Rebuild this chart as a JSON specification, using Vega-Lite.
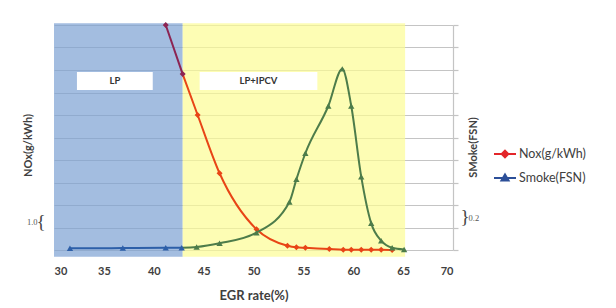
{
  "$schema": "https://vega.github.io/schema/vega-lite/v6.json",
  "width": 399,
  "height": 225,
  "autosize": {"type": "none"},
  "padding": {"left": 54, "top": 25, "right": 163, "bottom": 58},
  "background": "white",
  "config": {"view": {"stroke": null}, "font": "Lato"},
  "datasets": {
    "regions": [
      {"region": "LP", "x1": 30, "x2": 42.9, "y1": -0.3, "y2": 10.08},
      {"region": "IPCV", "x1": 42.9, "x2": 65.2, "y1": -0.3, "y2": 10.08}
    ],
    "boxes": [
      {"label": "LP", "x1": 32.3, "x2": 39.9, "y1": 7.11, "y2": 7.91, "cx": 36.1, "cy": 7.51},
      {"label": "LP+IPCV", "x1": 44.6, "x2": 56.4, "y1": 7.11, "y2": 7.91, "cx": 50.5, "cy": 7.51}
    ],
    "braces": [
      {"t": "{", "egr": 28.7, "nox": 1.26},
      {"t": "}", "egr": 71.2, "nox": 1.47}
    ],
    "nox": [
      {"egr": 41.2, "nox": 10.0, "seg": "Nox LP", "dup": false},
      {"egr": 42.9, "nox": 7.82, "seg": "Nox LP", "dup": false},
      {"egr": 42.9, "nox": 7.82, "seg": "Nox IPCV", "dup": true},
      {"egr": 44.4, "nox": 6.0, "seg": "Nox IPCV", "dup": false},
      {"egr": 46.6, "nox": 3.41, "seg": "Nox IPCV", "dup": false},
      {"egr": 50.3, "nox": 0.92, "seg": "Nox IPCV", "dup": false},
      {"egr": 53.4, "nox": 0.19, "seg": "Nox IPCV", "dup": false},
      {"egr": 54.3, "nox": 0.12, "seg": "Nox IPCV", "dup": false},
      {"egr": 55.2, "nox": 0.1, "seg": "Nox IPCV", "dup": false},
      {"egr": 57.6, "nox": 0.04, "seg": "Nox IPCV", "dup": false},
      {"egr": 59.0, "nox": 0.01, "seg": "Nox IPCV", "dup": false},
      {"egr": 59.8, "nox": 0.01, "seg": "Nox IPCV", "dup": false},
      {"egr": 60.8, "nox": 0.01, "seg": "Nox IPCV", "dup": false},
      {"egr": 61.8, "nox": 0.01, "seg": "Nox IPCV", "dup": false},
      {"egr": 62.8, "nox": 0.01, "seg": "Nox IPCV", "dup": false},
      {"egr": 63.9, "nox": 0.0, "seg": "Nox IPCV", "dup": false}
    ],
    "smoke": [
      {"egr": 31.6, "smoke": 0.015, "seg": "Smoke LP", "dup": false},
      {"egr": 36.9, "smoke": 0.017, "seg": "Smoke LP", "dup": false},
      {"egr": 41.2, "smoke": 0.02, "seg": "Smoke LP", "dup": false},
      {"egr": 42.8, "smoke": 0.02, "seg": "Smoke LP", "dup": false},
      {"egr": 42.8, "smoke": 0.02, "seg": "Smoke IPCV", "dup": true},
      {"egr": 44.3, "smoke": 0.027, "seg": "Smoke IPCV", "dup": false},
      {"egr": 46.6, "smoke": 0.06, "seg": "Smoke IPCV", "dup": false},
      {"egr": 50.3, "smoke": 0.154, "seg": "Smoke IPCV", "dup": false},
      {"egr": 53.6, "smoke": 0.427, "seg": "Smoke IPCV", "dup": false},
      {"egr": 54.3, "smoke": 0.628, "seg": "Smoke IPCV", "dup": false},
      {"egr": 55.2, "smoke": 0.86, "seg": "Smoke IPCV", "dup": false},
      {"egr": 57.5, "smoke": 1.28, "seg": "Smoke IPCV", "dup": false},
      {"egr": 58.9, "smoke": 1.61, "seg": "Smoke IPCV", "dup": false},
      {"egr": 59.8, "smoke": 1.28, "seg": "Smoke IPCV", "dup": false},
      {"egr": 60.8, "smoke": 0.652, "seg": "Smoke IPCV", "dup": false},
      {"egr": 61.8, "smoke": 0.237, "seg": "Smoke IPCV", "dup": false},
      {"egr": 62.8, "smoke": 0.083, "seg": "Smoke IPCV", "dup": false},
      {"egr": 63.9, "smoke": 0.02, "seg": "Smoke IPCV", "dup": false},
      {"egr": 65.1, "smoke": 0.005, "seg": "Smoke IPCV", "dup": false}
    ],
    "legend": [
      {"series": "Nox(g/kWh)"},
      {"series": "Smoke(FSN)"}
    ]
  },
  "layer": [
    {
      "layer": [
        {
          "data": {"name": "regions"},
          "mark": {"type": "rect", "opacity": 0.7},
          "encoding": {
            "x": {
              "field": "x1", "type": "quantitative",
              "scale": {"domain": [30, 70], "nice": false, "zero": false},
              "axis": {
                "values": [30, 35, 40, 45, 50, 55, 60, 65, 70],
                "title": "EGR rate(%)",
                "grid": false, "ticks": false, "domain": false,
                "labelFont": "Lato", "labelFontWeight": "bold", "labelFontSize": 11,
                "labelColor": "#404040", "labelPadding": 15,
                "titleFont": "Lato", "titleFontSize": 13, "titleFontWeight": "bold",
                "titleColor": "#404040", "titlePadding": 13
              }
            },
            "x2": {"field": "x2"},
            "y": {
              "field": "y1", "type": "quantitative",
              "scale": {"domain": [0, 10], "nice": false, "zero": false},
              "axis": {
                "orient": "left",
                "values": [1],
                "labelExpr": "'1.0'",
                "title": "NOx(g/kWh)",
                "grid": false, "ticks": false, "domain": false,
                "labelFont": "Liberation Serif", "labelFontSize": 8.5, "labelColor": "#555555",
                "labelPadding": 17, "labelOffset": -6,
                "titleFont": "Lato", "titleFontSize": 11, "titleFontWeight": "bold",
                "titleColor": "#404040", "titleX": -26, "titleY": 120,
                "titleAngle": 270, "titleBaseline": "middle", "titleAlign": "center"
              }
            },
            "y2": {"field": "y2"},
            "color": {
              "field": "region", "type": "nominal",
              "scale": {
                "domain": ["LP", "IPCV", "Nox LP", "Nox IPCV", "Smoke LP", "Smoke IPCV"],
                "range": ["#7ca1d3", "#fcfc94", "#8c2452", "#e84516", "#2d5fa8", "#4d7c4a"]
              },
              "legend": null
            }
          }
        },
        {
          "data": {"name": "boxes"},
          "mark": {"type": "rect", "color": "white"},
          "encoding": {
            "x": {"field": "x1", "type": "quantitative"},
            "x2": {"field": "x2"},
            "y": {"field": "y1", "type": "quantitative"},
            "y2": {"field": "y2"}
          }
        },
        {
          "data": {"name": "boxes"},
          "mark": {"type": "text", "font": "Lato", "fontWeight": "bold", "fontSize": 9.5, "color": "#333333", "align": "center", "baseline": "middle"},
          "encoding": {
            "x": {"field": "cx", "type": "quantitative"},
            "y": {"field": "cy", "type": "quantitative"},
            "text": {"field": "label"}
          }
        },
        {
          "data": {"name": "braces"},
          "mark": {"type": "text", "font": "Liberation Serif", "fontSize": 19, "color": "#444444", "align": "center", "baseline": "middle"},
          "encoding": {
            "x": {"field": "egr", "type": "quantitative"},
            "y": {"field": "nox", "type": "quantitative"},
            "text": {"field": "t"}
          }
        },
        {
          "data": {"name": "nox"},
          "mark": {"type": "line", "strokeWidth": 2, "interpolate": "monotone"},
          "encoding": {
            "x": {"field": "egr", "type": "quantitative"},
            "y": {"field": "nox", "type": "quantitative"},
            "color": {"field": "seg", "type": "nominal", "legend": null}
          }
        },
        {
          "data": {"name": "nox"},
          "transform": [{"filter": "!datum.dup"}],
          "mark": {"type": "point", "shape": "diamond", "filled": true, "size": 36, "opacity": 1},
          "encoding": {
            "x": {"field": "egr", "type": "quantitative"},
            "y": {"field": "nox", "type": "quantitative"},
            "color": {"field": "seg", "type": "nominal", "legend": null}
          }
        },
        {
          "data": {"name": "legend"},
          "transform": [{"filter": "false"}],
          "mark": {"type": "point", "opacity": 1, "strokeWidth": 2},
          "encoding": {
            "fill": {
              "field": "series", "type": "nominal",
              "scale": {"domain": ["Nox(g/kWh)", "Smoke(FSN)"], "range": ["#e3262a", "#2c4f98"]},
              "legend": {
                "title": null, "orient": "none", "legendX": 439, "legendY": 117,
                "symbolSize": 484, "symbolStrokeWidth": 2,
                "labelFont": "Lato", "labelFontSize": 12.5, "labelColor": "#404040",
                "rowPadding": 4, "labelOffset": 2
              }
            },
            "stroke": {
              "field": "series", "type": "nominal",
              "scale": {"domain": ["Nox(g/kWh)", "Smoke(FSN)"], "range": ["#e3262a", "#2c4f98"]},
              "legend": {
                "title": null, "orient": "none", "legendX": 439, "legendY": 117,
                "symbolSize": 484, "symbolStrokeWidth": 2,
                "labelFont": "Lato", "labelFontSize": 12.5, "labelColor": "#404040",
                "rowPadding": 4, "labelOffset": 2
              }
            },
            "shape": {
              "field": "series", "type": "nominal",
              "scale": {
                "domain": ["Nox(g/kWh)", "Smoke(FSN)"],
                "range": ["M-1,0H1M0,-0.3L0.3,0L0,0.3L-0.3,0Z", "M-1,0H1M0,-0.32L0.32,0.22L-0.32,0.22Z"]
              },
              "legend": {
                "title": null, "orient": "none", "legendX": 439, "legendY": 117,
                "symbolSize": 484, "symbolStrokeWidth": 2,
                "labelFont": "Lato", "labelFontSize": 12.5, "labelColor": "#404040",
                "rowPadding": 4, "labelOffset": 2
              }
            }
          }
        }
      ]
    },
    {
      "layer": [
        {
          "data": {"name": "smoke"},
          "mark": {"type": "line", "strokeWidth": 2, "interpolate": "monotone"},
          "encoding": {
            "x": {"field": "egr", "type": "quantitative"},
            "y": {
              "field": "smoke", "type": "quantitative",
              "scale": {"domain": [0, 2], "nice": false, "zero": false},
              "axis": {
                "orient": "right",
                "tickCount": 10,
                "labelOverlap": false,
                "labelExpr": "abs(datum.value - 0.2) < 0.001 ? '0.2' : ''",
                "title": "SMoke(FSN)",
                "grid": true, "gridColor": "#c4c4c4", "gridWidth": 1.2,
                "domain": true, "domainColor": "#c4c4c4", "domainWidth": 1.2,
                "ticks": true, "tickColor": "#c4c4c4", "tickSize": 5, "tickWidth": 1.2,
                "labelFont": "Liberation Serif", "labelFontSize": 8.5, "labelColor": "#555555",
                "labelPadding": 10, "labelOffset": -10,
                "titleFont": "Lato", "titleFontSize": 11, "titleFontWeight": "bold",
                "titleColor": "#404040", "titleX": 20, "titleY": 122,
                "titleAngle": 270, "titleBaseline": "middle", "titleAlign": "center"
              }
            },
            "color": {"field": "seg", "type": "nominal", "legend": null}
          }
        },
        {
          "data": {"name": "smoke"},
          "transform": [{"filter": "!datum.dup"}],
          "mark": {"type": "point", "shape": "triangle-up", "filled": true, "size": 40, "opacity": 1},
          "encoding": {
            "x": {"field": "egr", "type": "quantitative"},
            "y": {"field": "smoke", "type": "quantitative"},
            "color": {"field": "seg", "type": "nominal", "legend": null}
          }
        }
      ]
    }
  ],
  "resolve": {"scale": {"y": "independent"}}
}
